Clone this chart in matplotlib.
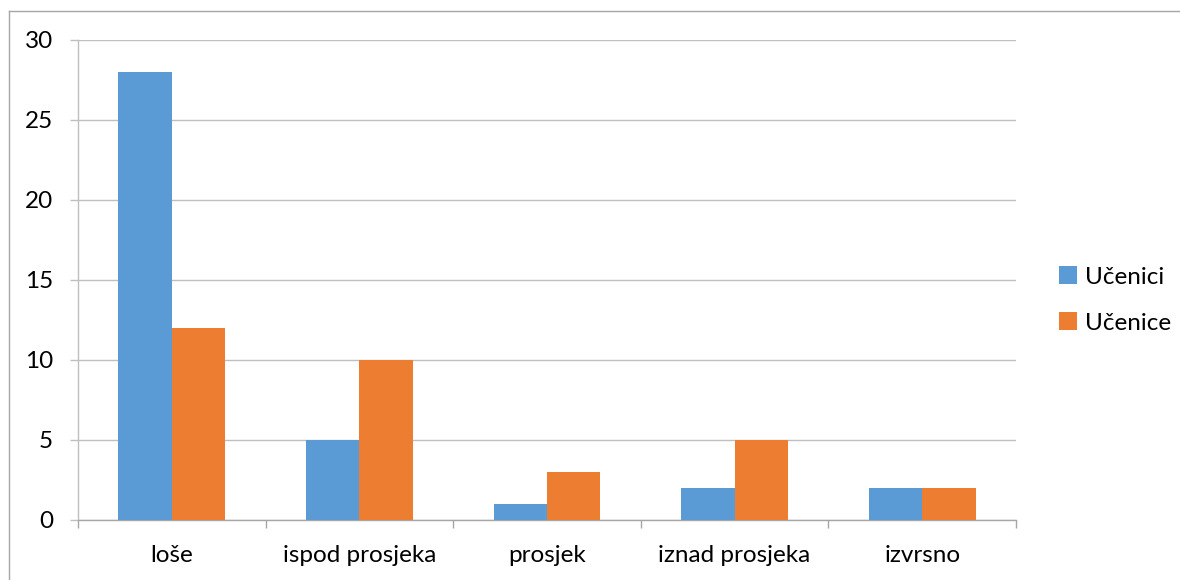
import matplotlib
matplotlib.use("Agg")
import matplotlib.pyplot as plt
import numpy as np
from matplotlib.lines import Line2D
from matplotlib.patches import Patch

categories = ["loše", "ispod prosjeka", "prosjek", "iznad prosjeka", "izvrsno"]
ucenici = [28, 5, 1, 2, 2]
ucenice = [12, 10, 3, 5, 2]
series_names = ["Učenici", "Učenice"]
colors = ["#5B9BD5", "#ED7D31"]

plt.rcParams['font.family'] = ['Lato', 'DejaVu Sans']
FS = 17.5

W, H = 1180, 580
fig = plt.figure(figsize=(W/100, H/100), dpi=100)
ax = fig.add_axes([78/W, 60/H, (1016-78)/W, 480/H])

x = np.arange(len(categories))
bw = 0.285
ax.bar(x - bw/2, ucenici, width=bw, color=colors[0], label=series_names[0], zorder=3)
ax.bar(x + bw/2, ucenice, width=bw, color=colors[1], label=series_names[1], zorder=3)

ax.set_xlim(-0.5, len(categories) - 0.5)
ax.set_ylim(0, 30)
ax.set_yticks(range(0, 31, 5))
ax.yaxis.grid(True, color="#BFBFBF", linewidth=1, zorder=0)
ax.set_axisbelow(True)

for s in ["top", "right"]:
    ax.spines[s].set_visible(False)
ax.spines["left"].set_color("#BFBFBF")
ax.spines["bottom"].set_color("#A6A6A6")
ax.spines["left"].set_linewidth(1)
ax.spines["bottom"].set_linewidth(1)

ax.tick_params(axis="y", length=6, width=1, color="#BFBFBF", pad=12, labelsize=FS, labelcolor="#000000")
ax.set_xticks(x)
ax.set_xticklabels(categories)
ax.set_xticks(np.arange(-0.5, len(categories)), minor=True)
ax.tick_params(axis="x", which="major", length=0, pad=18, labelsize=FS)
ax.tick_params(axis="x", which="minor", length=6, width=1, color="#A6A6A6")

handles = [Patch(facecolor=c, edgecolor="none") for c in colors]
leg = fig.legend(handles, series_names, loc="center left", bbox_to_anchor=(1047/W, 1 - 300/H),
                 frameon=False, fontsize=FS, handlelength=0.75, handleheight=0.75,
                 handletextpad=0.3, labelspacing=1.0, borderpad=0)

# chart outer border
fig.add_artist(Line2D([9/W, 9/W], [0, 1 - 11/H], color="#A6A6A6", linewidth=1, transform=fig.transFigure))
fig.add_artist(Line2D([9/W, 1], [1 - 11/H, 1 - 11/H], color="#A6A6A6", linewidth=1, transform=fig.transFigure))

fig.savefig("out.png", dpi=100)
